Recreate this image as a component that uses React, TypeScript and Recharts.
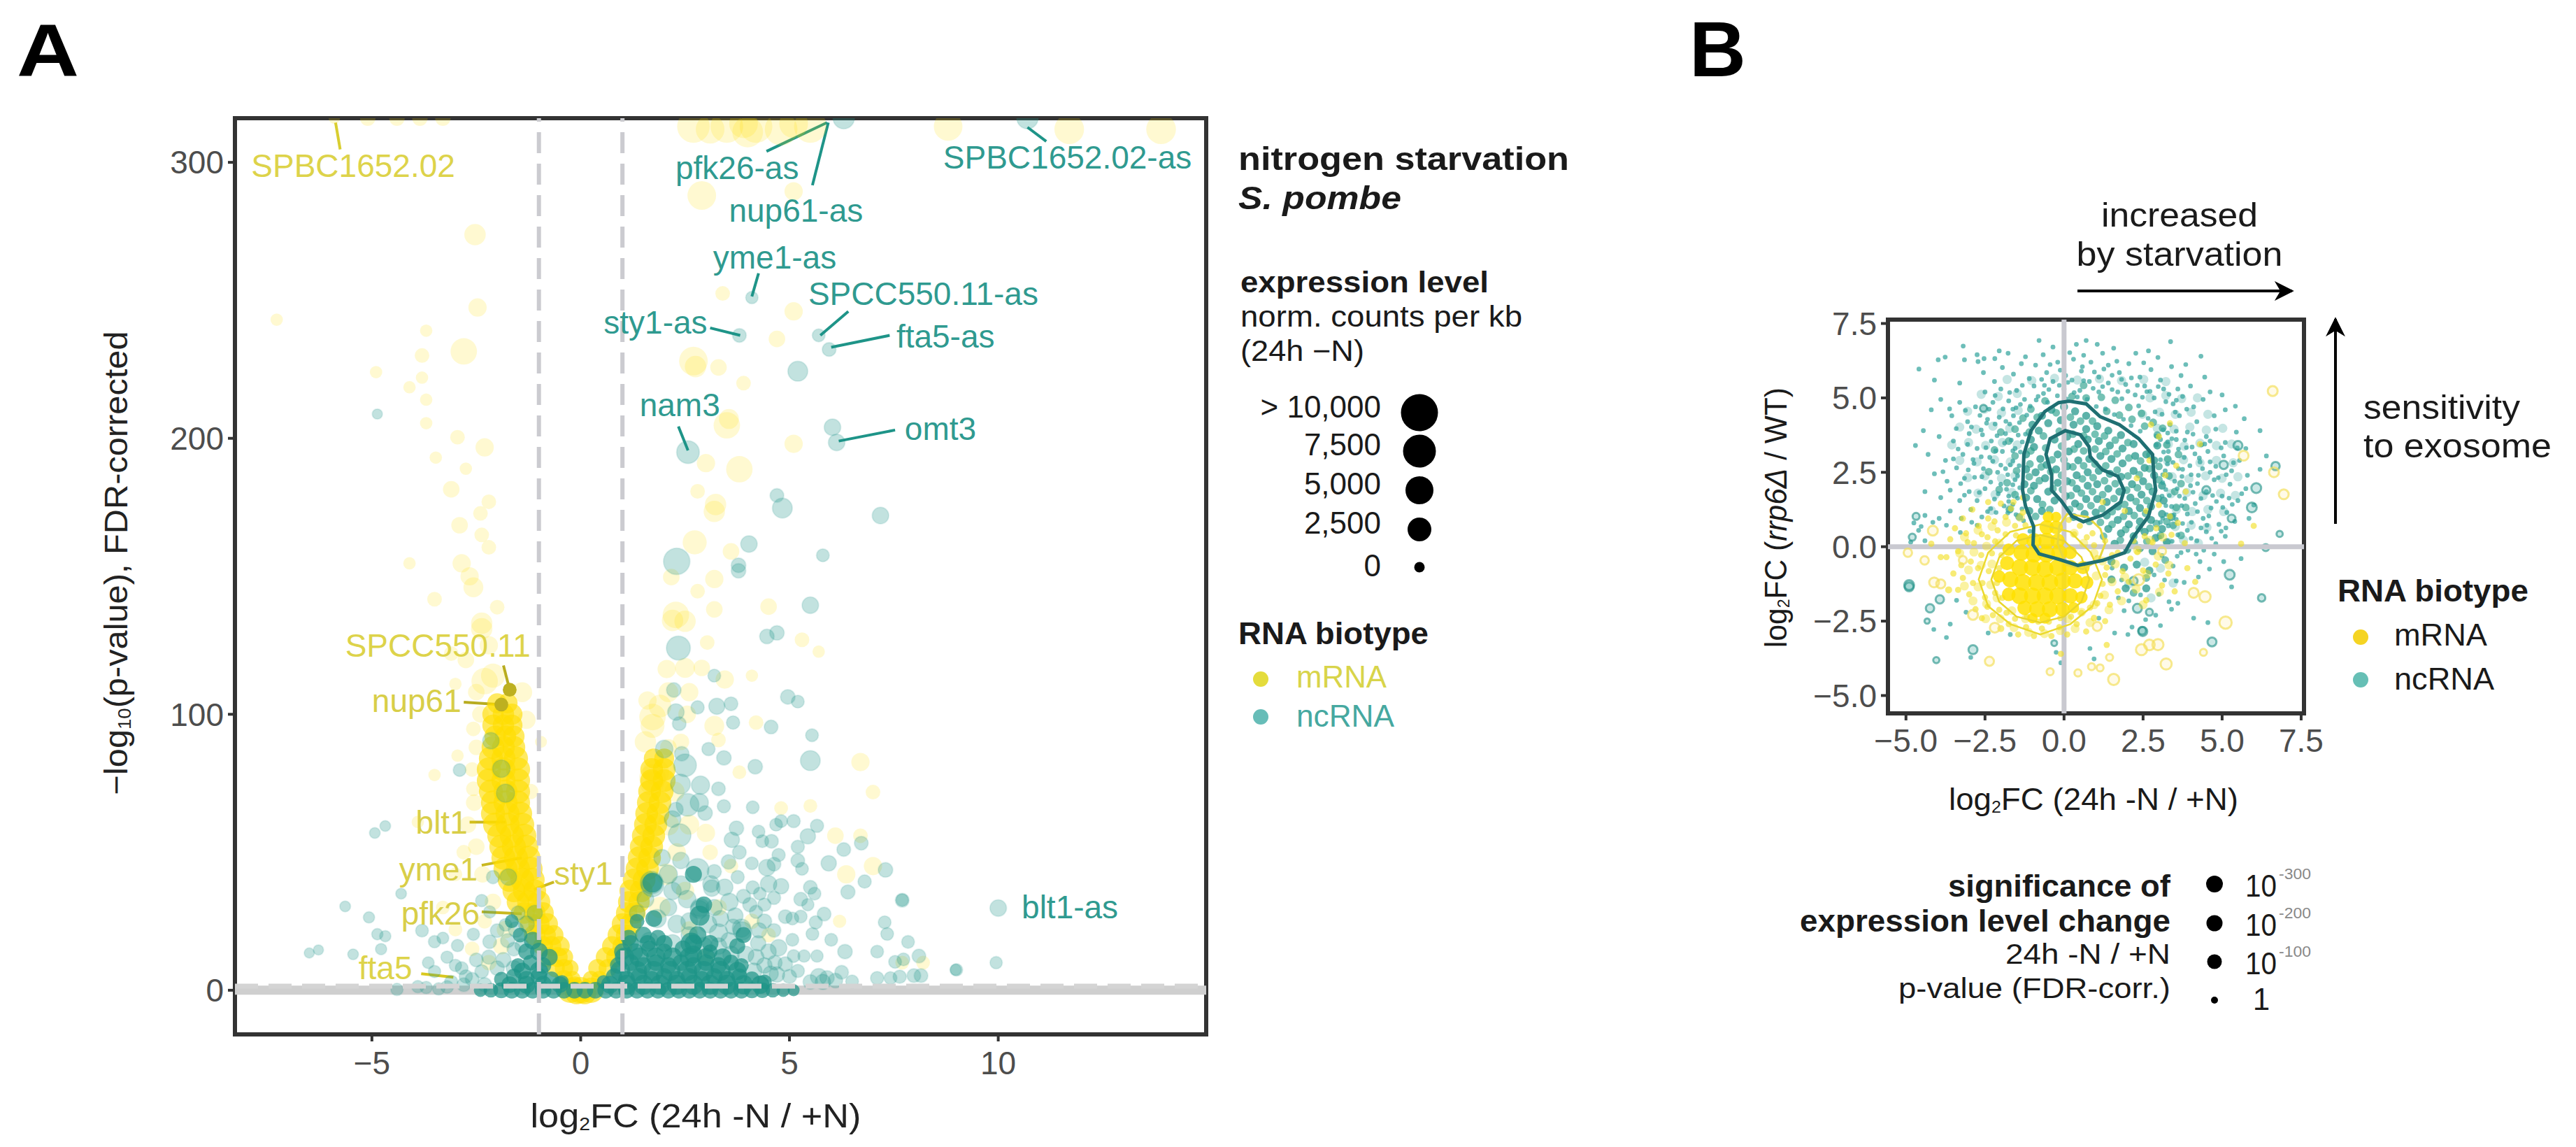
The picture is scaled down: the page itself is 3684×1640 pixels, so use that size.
import { ReferenceArea, ReferenceLine, Scatter, ScatterChart, XAxis, YAxis, ZAxis } from "recharts";

const YELLOW = "#FFDD00";
const TEAL = "#1E9488";
const FONT = "Liberation Sans, Arial, sans-serif";

type Row = [number, number, number?];
const toPoints = (rows: Row[], z = 15) => rows.map(([x, y, s]) => ({ x, y, z: s ?? z }));

// ---- panel A, x = log2FC, y = -log10(p), z = expression level ----
const volcanoXTicks = [-5, 0, 5, 10];
const volcanoYTicks = [0, 100, 200, 300];

const mrnaArms: Row[] = [
  [-2, 104, 2500], [-1.75, 104, 2500], [-2.1, 100, 3000], [-1.85, 100, 3000], [-1.65, 100, 3000], [-2.1, 96, 3000], [-1.85, 96, 3000], [-1.65, 96, 3000],
  [-2.05, 92, 3000], [-1.8, 92, 3000], [-1.6, 92, 3000], [-2.1, 88, 3500], [-1.85, 88, 3500], [-1.6, 88, 3500], [-2.15, 84, 4000], [-1.85, 84, 4000], [-1.55, 84, 4000],
  [-2.2, 80, 4000], [-1.85, 80, 4000], [-1.5, 80, 4000], [-2.2, 76, 4000], [-1.85, 76, 4000], [-1.5, 76, 4000], [-2.15, 72, 4000], [-1.8, 72, 4000], [-1.5, 72, 4000],
  [-2.1, 68, 4000], [-1.8, 68, 4000], [-1.5, 68, 4000], [-2.1, 64, 4000], [-1.75, 64, 4000], [-1.45, 64, 4000], [-2.05, 60, 4000], [-1.75, 60, 4000], [-1.4, 60, 4000],
  [-1.95, 56, 4000], [-1.65, 56, 4000], [-1.35, 56, 4000], [-1.9, 52, 4000], [-1.6, 52, 4000], [-1.3, 52, 4000], [-1.85, 48, 4000], [-1.55, 48, 4000], [-1.25, 48, 4000],
  [-1.8, 44, 4000], [-1.5, 44, 4000], [-1.2, 44, 4000], [-1.7, 40, 4000], [-1.4, 40, 4000], [-1.15, 40, 4000], [-1.6, 36, 3500], [-1.35, 36, 3500], [-1.1, 36, 3500],
  [-1.5, 32, 3500], [-1.25, 32, 3500], [-1, 32, 3500], [-1.35, 28, 3000], [-1.1, 28, 3000], [-0.9, 28, 3000], [-1.2, 24, 3000], [-1, 24, 3000], [-0.8, 24, 3000],
  [-1.1, 20, 3000], [-0.85, 20, 3000], [-0.65, 20, 2500], [-0.9, 16, 2500], [-0.7, 16, 2500], [-0.5, 16, 2500], [-0.8, 12, 2500], [-0.55, 12, 2500], [-0.4, 12, 2000],
  [-0.6, 8, 2000], [-0.4, 8, 2000], [-0.25, 8, 1500], [-0.4, 4, 2000], [-0.2, 4, 1500], [-0.15, 2, 1500], [0, 0, 5000], [-0.25, 0, 4500], [0.25, 0, 4500], [-0.1, -1, 3500], [0.1, -1, 3500],
  [1.75, 84, 2500], [2, 84, 2500], [1.7, 80, 3500], [2, 80, 3500], [1.7, 76, 3500], [2, 76, 3500], [1.65, 72, 3500], [1.95, 72, 3500], [1.62, 68, 3500], [1.9, 68, 3500],
  [1.58, 64, 3500], [1.85, 64, 3500], [1.55, 60, 3500], [1.8, 60, 3500], [1.5, 56, 3500], [1.75, 56, 3500], [1.45, 52, 3500], [1.7, 52, 3500], [1.4, 48, 3500], [1.65, 48, 3500],
  [1.35, 44, 3500], [1.6, 44, 3500], [1.28, 40, 3500], [1.52, 40, 3500], [1.2, 36, 3500], [1.45, 36, 3500], [1.15, 32, 3000], [1.4, 32, 3000], [1.1, 28, 3000], [1.3, 28, 3000],
  [1, 24, 3000], [1.2, 24, 3000], [0.9, 20, 3000], [1.1, 20, 3000], [0.75, 16, 2500], [1, 16, 2500], [0.6, 12, 2500], [0.85, 12, 2500], [0.4, 8, 2000], [0.65, 8, 2000], [0.25, 4, 1500], [0.45, 4, 1500],
];

const mrnaPale: Row[] = [
  [-5.9, 316, 300], [-5.1, 316, 1200], [-4.4, 316, 1200], [-3.85, 316, 1200], [-3.3, 316, 1200],
  [2.7, 313, 8000], [3.1, 312, 6000], [3.5, 313, 8000], [4, 311, 7000], [4.2, 313, 8000], [4.8, 312, 8000], [5.5, 313, 8000], [3.9, 314, 6000], [5.1, 314, 6000], [8.8, 313, 6000], [11.7, 312, 6500], [13.9, 312, 6500],
  [-2.53, 273.8, 3000], [-2.47, 247.4, 2000], [-2.8, 231.5, 5000], [-7.28, 243, 500], [-3.7, 239, 500], [-3.8, 230, 1000],
  [-4.9, 224, 500], [-4.1, 218.5, 500], [-3.8, 222, 500], [-3.7, 214, 500], [-3.7, 205.5, 500], [-2.95, 200.4, 1000], [-2.3, 196.7, 2000],
  [-3.47, 193, 500], [-2.75, 189, 500], [-3.1, 181.5, 1500], [-2.2, 177, 1000], [-2.4, 172.8, 1000], [-2.9, 168.5, 1500],
  [-2.37, 165, 1000], [-4.1, 154.7, 500], [-2.85, 154.7, 2000], [-2.2, 160.5, 1000], [-2.57, 146, 2500], [-2.66, 150, 2000],
  [-3.5, 141.7, 1000], [-2, 138.8, 1000], [-2.37, 133, 3000], [-2.37, 131, 3000], [-2.2, 125, 2000], [-3.1, 122, 1000], [-2.75, 119.7, 1500],
  [-2.3, 112, 5000], [-2.1, 114, 4000], [-3, 111, 500], [-2.57, 94.7, 1000], [-2.95, 85, 500], [-2.57, 73, 1000], [-3.5, 78, 500], [-3.9, 61, 500],
  [-2.7, 60, 1500], [-2.8, 50, 1000], [-3, 42, 800], [-2.4, 100, 1500], [-2.6, 80, 1000], [-3.3, 30, 800], [-3, 22, 800], [-2.6, 15, 1000], [-2.2, 10, 1200], [-1.9, 16, 1500], [-2.3, 25, 1000],
  [-2.5, 108, 1500], [-1.4, 108, 2500], [-1.3, 98, 2000], [-2.5, 88, 1200], [-2.55, 68, 1500], [-2.5, 52, 1500], [-2.35, 42, 1500], [-2.1, 32, 1500], [-1.8, 22, 1800], [-0.95, 90, 400], [-1.2, 72, 1200],
  [2.9, 288, 6000], [5.1, 289.5, 2000], [3.4, 252.5, 1000], [5.1, 246, 2000], [4.7, 236, 1500], [2.7, 228, 6000], [2.75, 226, 3000], [3.3, 225.7, 1500], [3.9, 220, 1000],
  [3.5, 204.7, 5000], [3.55, 207, 2500], [5.1, 198, 2000], [3, 191, 2000], [3.8, 188.8, 5000], [2.8, 180.8, 1000], [3.2, 173.5, 3000], [3.23, 176, 3000],
  [2.73, 162.3, 4000], [3.6, 159, 1500], [3.2, 149, 2000], [2.17, 149.7, 1500], [2.8, 144.6, 1000], [2.28, 136, 5000], [2.5, 133.7, 3000], [2.2, 134, 3000], [3.2, 138, 1500],
  [4.5, 139, 1500], [3.03, 126, 1000], [5.3, 127, 1000], [5.7, 122.7, 500], [2.06, 116.4, 2000], [2.5, 116.8, 2500], [2.9, 116.8, 1500], [3.45, 112.6, 2000],
  [4.1, 114, 500], [1.72, 99, 5000], [1.72, 95.8, 4000], [1.9, 103, 3500], [3.2, 95.8, 2500], [4.2, 97, 1000], [3.3, 90.7, 1000], [6.7, 82.7, 2000], [3.8, 79, 800],
  [1.72, 77, 5000], [1.8, 79, 5000], [1.7, 75, 4000], [7, 71.8, 1000], [4.8, 66, 800], [5.5, 66.8, 800], [6.1, 56, 1500], [6.7, 56, 1000], [6.36, 42, 2000], [7, 45, 2000], [3, 57, 2000],
  [2.4, 90, 1500], [2.1, 88, 1500], [2.6, 60, 2500], [2.3, 50, 2000], [3.3, 30, 1500], [3.1, 50, 1200], [8.2, 10, 800], [6.2, 25, 700], [7.7, 10, 800],
  [1.55, 90, 3000], [1.6, 105, 2000], [2.1, 108, 2500], [2.6, 108, 2000], [2.55, 100, 1800], [2.25, 72, 2500], [2.1, 60, 3000], [2.05, 42, 3000], [1.9, 30, 3000], [2.5, 36, 2000], [3.6, 45, 1000], [2.6, 22, 1500], [3, 12, 1500], [4.1, 25, 1200], [4.5, 20, 1000],
];

const ncrnaBase: Row[] = [
  [-1.7, 2, 1500], [-1.3, 2, 1800], [-0.9, 2, 1800], [-0.5, 2, 1500], [0.7, 2, 1800], [1.1, 2, 2500], [1.5, 2, 2500], [1.9, 2, 2500], [2.3, 2, 2500], [2.7, 2, 2500], [3.1, 2, 2500], [3.5, 2, 2500], [3.9, 2, 2300], [4.3, 2, 2000],
  [-1.4, 7, 1500], [-1, 7, 2000], [0.95, 7, 2500], [1.35, 7, 2500], [1.75, 7, 2500], [2.15, 7, 2500], [2.55, 7, 2500], [2.95, 7, 2500], [3.35, 7, 2500], [3.75, 7, 2000],
  [1.05, 12, 2300], [1.4, 12, 2300], [1.8, 12, 2300], [2.2, 12, 2300], [2.6, 12, 2300], [3, 12, 2000], [3.4, 12, 1800], [1.2, 17, 1500], [1.6, 17, 1500], [2, 17, 1500], [2.7, 17, 1800], [3.1, 17, 1500],
];

const ncrnaDense: Row[] = [
  [-2.4, 0, 700], [-2.15, 0, 1000], [-1.9, 0, 1300], [-1.65, 0, 1500], [-1.4, 0, 1500], [-1.15, 0, 1500], [-0.9, 0, 1500], [-0.65, 0, 1500], [-0.4, 0, 1500], [-0.15, 0, 1500], [0.1, 0, 1500], [0.35, 0, 1500], [0.6, 0, 1500], [0.85, 0, 1500],
  [1.1, 0, 1500], [1.35, 0, 1500], [1.6, 0, 1500], [1.85, 0, 1500], [2.1, 0, 1500], [2.35, 0, 1500], [2.6, 0, 1500], [2.85, 0, 1500], [3.1, 0, 1500], [3.35, 0, 1500], [3.6, 0, 1500], [3.85, 0, 1500], [4.1, 0, 1300], [4.35, 0, 1200], [4.6, 0, 1000], [4.85, 0, 700], [5.1, 0, 400],
  [-1.9, 4, 1000], [-1.6, 5, 1200], [-1.3, 4, 1500], [-1, 5, 1500], [-0.7, 4, 1200], [-0.45, 3, 800], [0.55, 3, 800], [0.8, 5, 1400], [1.1, 4, 1500], [1.4, 5, 1500], [1.7, 4, 1500], [2, 5, 1500], [2.3, 4, 1500], [2.6, 5, 1500], [2.9, 4, 1500], [3.2, 5, 1500], [3.5, 4, 1500], [3.8, 5, 1300], [4.1, 4, 1200], [4.4, 3, 1000],
  [-1.5, 9, 1000], [-1.2, 10, 1200], [-0.9, 9, 1400], [0.9, 9, 1500], [1.2, 10, 1500], [1.5, 9, 1500], [1.8, 10, 1500], [2.1, 9, 1500], [2.4, 10, 1500], [2.7, 9, 1500], [3, 10, 1500], [3.3, 9, 1500], [3.6, 10, 1300], [3.85, 9, 1000],
  [-1.3, 14, 1400], [-1, 14, 1800], [-0.75, 12, 1500], [1, 14, 1500], [1.3, 14, 1500], [1.65, 15, 1500], [2, 14, 1300], [2.45, 15, 1500], [2.7, 13, 1800], [3.1, 14, 1000], [3.75, 16, 1300],
  [1.15, 19, 1300], [1.5, 20, 1500], [1.85, 19, 1300], [2.65, 17, 3000], [2.8, 20, 1800], [3.9, 20, 1300], [-1.15, 18, 1800], [-1.45, 20, 1000], [-1.65, 25, 800],
  [1.35, 25, 1000], [1.75, 26, 1500], [2.85, 27, 2500], [2.95, 31, 1500], [1.72, 39, 2500], [2.7, 42, 1600],
];

const ncrnaPale: Row[] = [
  [6.3, 316, 3000], [10.7, 316, 3000], [4.1, 251, 500], [3.8, 237.3, 800], [5.7, 237.3, 600], [5.95, 232.2, 800], [5.2, 224.3, 2500], [6.03, 204, 1500], [6.13, 198.5, 1500],
  [2.57, 195, 3500], [4.7, 179.3, 800], [4.83, 174.7, 2500], [7.18, 172, 1500], [-4.87, 208.8, 100], [4.03, 161.7, 1500], [5.8, 157.6, 600], [3.78, 154, 1000], [3.78, 152, 1000], [2.3, 155.4, 5000], [5.5, 139.5, 1500],
  [4.46, 128.2, 1000], [4.7, 129.5, 1000], [2.34, 124, 4000], [3.2, 114, 600], [2.23, 108.8, 1000], [4.96, 106.3, 1000], [5.2, 104.6, 600], [2.28, 100.8, 1500], [2.36, 96.6, 800], [2.8, 102.5, 700], [3.26, 102.9, 1400], [3.6, 103.8, 800], [3.65, 97, 700],
  [4.56, 95.4, 800], [5.54, 92.4, 600], [5.5, 83.2, 2500], [2, 87.4, 1800], [2.42, 85.7, 1000], [3.06, 87.4, 700], [3.43, 84.2, 1000], [4.18, 81, 1000], [2.5, 81.5, 3500], [2.39, 74.7, 2500], [2.87, 74.3, 2000], [4.12, 66.3, 600], [3.43, 66.7, 700],
  [2.56, 67.2, 3500], [2.28, 65.5, 1000], [2.84, 68, 2000], [2.98, 64.2, 1000], [2.37, 56.2, 3500], [3.73, 58.7, 1000], [4.8, 61.3, 600], [4.68, 60, 600], [5.1, 61.3, 700], [5.66, 59.6, 700], [4.26, 57.5, 600], [4.35, 54, 600], [4.57, 54, 800], [3.62, 54.5, 1200], [5.44, 55.8, 1200],
  [5.2, 52, 700], [6.3, 51, 800], [6.72, 53.3, 800], [5.94, 46, 1200], [4.74, 49, 700], [5.2, 47, 800], [5.3, 44, 600], [7.3, 43.6, 1000], [6.8, 39.4, 700], [6.4, 35.6, 900], [7.7, 32.6, 800], [5.5, 37.3, 800], [5.6, 35, 600], [5.27, 33, 800], [5.44, 31, 500],
  [4.63, 33.5, 700], [4.4, 31, 700], [4.2, 28.4, 700], [4.12, 37.3, 700], [4.29, 35, 600], [4.5, 38.5, 1500], [4.8, 37.7, 1200], [3.54, 46.5, 1000], [4.1, 46, 600], [4.46, 44.4, 1500], [4.63, 45.7, 800], [3.76, 41, 700], [1.95, 48, 1500], [2.8, 43.6, 3500],
  [1.7, 39, 3500], [1.72, 38, 3500], [2.2, 36, 1800], [3.12, 38.5, 1500], [3.14, 37, 1500], [3.45, 37.3, 1500], [3.56, 32, 1800], [2.84, 29.3, 2000], [2.86, 30, 2000], [1.83, 26, 2000], [3.85, 22.5, 2000], [3.87, 21.5, 2000], [4.27, 21.7, 1200], [4.63, 21.7, 800], [4.9, 26.7, 800],
  [5.27, 26.7, 600], [5.83, 27.6, 800], [5.63, 24.6, 700], [5.55, 20.4, 600], [5.07, 26, 600], [6, 18.3, 600], [7.28, 24.6, 600], [7.34, 20.4, 600], [7.84, 17.5, 600], [6.33, 14, 1000], [7.1, 14, 600], [8.1, 12.4, 800], [7.73, 11.2, 600], [7.53, 10.3, 600], [9, 7.4, 500],
  [4.74, 15.4, 1500], [5.07, 18.3, 600], [5.1, 12.4, 600], [5.35, 12.4, 500], [5.66, 12.4, 500], [4.9, 9.5, 1000], [4.7, 5.7, 1200], [5.7, 4.9, 1500], [5.9, 4.5, 1000], [6.25, 6.5, 800], [6.5, 3.2, 600], [7.1, 4.4, 700], [7.42, 4.4, 600], [7.64, 4.9, 700], [7.98, 5.3, 800], [8.15, 5.3, 800],
  [3.3, 20.8, 2000], [10, 29.8, 1500], [9.95, 10, 500], [7.7, 32.7, 500], [8.98, 7.4, 300],
  [-4.68, 59.5, 200], [-4.93, 57, 200], [-5.64, 30.4, 200], [-5.07, 26.4, 300], [-6.5, 13.5, 100], [-6.28, 14.6, 100], [-5.45, 13, 200], [-4.87, 20.3, 300], [-4.68, 19.6, 300], [-4.78, 14.9, 300], [-4.3, 35, 200], [-3.8, 21.6, 600], [-3.5, 17.6, 500], [-3.3, 18.9, 400],
  [-2.37, 32.5, 500], [-2.18, 28.4, 500], [-2.57, 20.3, 500], [-2.95, 16.2, 500], [-2.18, 17.6, 800], [-2, 21.6, 800], [-2.85, 8, 600], [-2.37, 6.8, 800], [-1.6, 14.9, 800], [-1.8, 23.7, 600], [-1.41, 16.2, 800], [-3.5, 6.8, 500], [-3.9, 1.3, 500], [-2.6, 4, 800], [-3.1, 3, 700], [-2, 8, 1000], [-3.4, 0.5, 500], [-4.4, 0.3, 500],
  [-2.15, 90.4, 1500], [-1.9, 80.3, 1800], [-1.8, 71.4, 2000], [-2.9, 79.8, 600], [-1.73, 41, 1500], [-2.1, 41, 700], [5.8, 3, 1200], [6.1, 3.5, 1000], [5.5, 3, 1000],
  [2.1, 42, 2000], [2.4, 38, 2200], [2.55, 33, 1800], [2.1, 30, 1600], [1.55, 33, 1600], [1.35, 28, 1200], [2.3, 24, 1800], [2.6, 25, 1600], [3.05, 24, 1800], [3.35, 26, 1400], [3.7, 27, 1300], [4.05, 31, 900], [3.2, 30, 1400],
  [1.65, 18, 1600], [2.2, 17, 1800], [2.95, 16, 1700], [3.3, 16, 1500], [3.55, 18, 1400], [4.25, 17, 1200], [4.5, 14, 1200], [4.2, 12, 1300], [3.95, 13, 1500], [4.4, 9, 1200], [4.65, 10, 1000], [4.15, 7, 1400], [4.55, 6, 1200], [5, 5, 900], [5.2, 7, 700], [3.6, 13, 1500],
  [2.6, 20, 1500], [3.65, 23, 1200], [4.4, 25, 1000], [3.9, 34, 900], [3.2, 43, 900], [2.4, 47, 1500], [3.8, 50, 800], [2.2, 62, 1500], [3.3, 73, 800], [-1.6, 8, 1200], [-1.85, 11, 1100], [-2.2, 12, 900], [-2.5, 11, 800], [-2.75, 5, 700], [-3, 9, 500], [-3.2, 12, 500],
  [-3.65, 10, 400], [-2.3, 2, 900], [-2.8, 2, 800], [-3.2, 1.2, 600], [-3.7, 1, 500], [-1.75, 18, 900], [-1.5, 28, 900], [-1.55, 22, 1200], [-1.3, 24, 1400], [-1.1, 28, 1200],
];

const labelledMrna: Row[] = [[-1.7, 108.9, 800], [-1.9, 103.5, 800]];

const volcanoLabels = [
  { name: "SPBC1652.02", x: -7.89, y: 298.8, color: "#DDD34A" },
  { name: "SPCC550.11", x: -5.64, y: 125, color: "#DDD34A" },
  { name: "nup61", x: -5, y: 104.8, color: "#D8CE48" },
  { name: "blt1", x: -3.95, y: 60.9, color: "#D8CE48" },
  { name: "yme1", x: -4.35, y: 43.7, color: "#D8CE48" },
  { name: "sty1", x: -0.64, y: 42.2, color: "#D8CE48" },
  { name: "pfk26", x: -4.3, y: 27.8, color: "#D8CE48" },
  { name: "fta5", x: -5.32, y: 8, color: "#DDD34A" },
  { name: "pfk26-as", x: 2.27, y: 298, color: "#2F9A90" },
  { name: "nup61-as", x: 3.55, y: 282.5, color: "#2F9A90" },
  { name: "SPBC1652.02-as", x: 8.68, y: 301.8, color: "#2F9A90" },
  { name: "yme1-as", x: 3.17, y: 265.5, color: "#2F9A90" },
  { name: "SPCC550.11-as", x: 5.45, y: 252.5, color: "#2F9A90" },
  { name: "sty1-as", x: 0.55, y: 242, color: "#2F9A90" },
  { name: "fta5-as", x: 7.56, y: 237, color: "#2F9A90" },
  { name: "nam3", x: 1.41, y: 212, color: "#2F9A90" },
  { name: "omt3", x: 7.76, y: 203.5, color: "#2F9A90" },
  { name: "blt1-as", x: 10.56, y: 30, color: "#2F9A90" },
];

const labelSegments: [number, number, number, number, string][] = [
  [4.45, 304, 5.9, 314.4, TEAL], [5.55, 291.7, 5.93, 314.4, TEAL], [11.15, 307.6, 10.7, 312.7, TEAL], [4.26, 259.8, 4.1, 251.4, TEAL],
  [3.1, 240, 3.82, 237.3, TEAL], [6.41, 246, 5.74, 237.3, TEAL], [7.4, 237.3, 6, 233, TEAL], [2.34, 204.3, 2.57, 195.6, TEAL], [7.53, 203, 6.18, 199, TEAL],
  [-5.76, 304.7, -5.87, 314.4, "#D9CE30"], [-1.85, 117.7, -1.7, 108.9, "#B8AC20"], [-2.8, 104.4, -1.9, 103.5, "#B8AC20"], [-2.66, 60.9, -1.8, 60.9, "#C9B820"],
  [-2.37, 45.3, -1.41, 48, "#C9B820"], [-0.64, 39.2, -1.12, 36.5, "#C9B820"], [-2.37, 28.4, -1.41, 27.7, "#C9B820"], [-3.82, 6, -3.05, 4.7, "#D9C820"],
];

// ---- panel B, x = log2FC starvation, y = log2FC rrp6, z = significance ----
const exosomeTicks = [-5, -2.5, 0, 2.5, 5, 7.5];

const ncrnaHazeB: Row[] = [
  [-1.8, 5.62], [-1.02, 5.58], [-0.3, 5.66], [0.42, 5.6], [1.12, 5.64], [1.82, 5.58], [2.52, 5.62], [3.22, 5.55],
  [-2.62, 5.12], [-2.08, 5.05], [-1.48, 5.15], [2.72, 5], [3.22, 5.08], [3.72, 4.98], [4.22, 5],
  [-3.05, 4.55], [-2.52, 4.62], [-1.98, 4.5], [-1.45, 4.58], [2.48, 4.45], [3.02, 4.52], [3.52, 4.45], [4.02, 4.52], [4.55, 4.45],
  [-3.3, 4.02], [-2.78, 3.95], [-2.25, 4.05], [-1.72, 3.98], [2.95, 3.98], [3.48, 3.95], [3.98, 4.02], [4.5, 3.92], [5.02, 3.98],
  [-3.55, 3.42], [-3.02, 3.5], [-2.48, 3.4], [-1.95, 3.5], [-1.48, 3.42], [3.3, 3.45], [3.8, 3.38], [4.3, 3.48], [4.82, 3.4], [5.3, 3.45],
  [-3.3, 2.9], [-2.75, 2.85], [-2.2, 2.92], [-1.7, 2.85], [3.28, 2.88], [3.78, 2.92], [4.3, 2.82], [4.82, 2.9], [5.35, 2.82],
  [-3.05, 2.32], [-2.5, 2.38], [-1.98, 2.3], [-1.55, 2.38], [3.42, 2.35], [3.95, 2.28], [4.48, 2.38], [5, 2.3], [5.5, 2.35],
  [-2.72, 1.8], [-2.18, 1.75], [-1.65, 1.82], [3.38, 1.78], [3.88, 1.82], [4.4, 1.72], [4.95, 1.8], [5.42, 1.72],
  [-2.3, 1.22], [-1.72, 1.28], [3.55, 1.25], [4.05, 1.18], [4.55, 1.25], [5.05, 1.18],
  [3.52, 0.68], [4.02, 0.72], [4.52, 0.65], [3.3, 0.15], [3.78, 0.22], [4.25, 0.12], [2.05, -1.25], [2.55, -0.52], [3.05, -0.72], [3.45, -1.22], [2.75, -1.72],
];

const ncrnaSparseB: Row[] = [
  [-3.19, 6.74], [-4.59, 5.97], [-3.98, 6.28], [-3.76, 6.37], [-3.15, 6.28], [-2.75, 6.45], [-2.72, 6.22], [-2.53, 6.32], [-2.19, 6.32], [-2.05, 6.58], [-1.77, 6.5], [-0.79, 6.93], [-0.66, 6.45], [-0.35, 6.71], [0.39, 6.8], [0.7, 6.93], [1.05, 6.8], [1.57, 6.67], [3.37, 6.89], [2.67, 6.58], [2.27, 6.5], [4.33, 6.4], [2.97, 6.36], [1.22, 6.5],
  [-4.1, 5.6], [-3.3, 5.5], [-2.55, 5.85], [-2.2, 5.55], [-1.95, 6.02], [-1.6, 5.8], [-1.35, 6.15], [-1.1, 5.65], [-0.9, 6.1], [-0.55, 5.85], [-0.2, 6.2], [0.05, 5.75], [0.3, 6.3], [0.55, 5.9], [0.85, 6.2], [1.1, 5.7], [1.4, 6.1], [1.75, 5.85], [2.05, 6.15], [2.4, 5.7], [2.75, 5.95], [3.05, 5.6], [3.4, 6.05], [3.7, 5.75], [4, 5.4], [4.45, 5.7], [3.6, 5.3], [5, 5.1],
  [-4.7, 3.4], [-4.2, 4.6], [-4.45, 3.9], [-3.9, 4.95], [-3.55, 4.4], [-3.3, 4.85], [-3.05, 4.2], [-2.8, 4.7], [-2.5, 5.2], [-2.25, 4.85], [-2, 5.3], [-1.75, 4.9], [-1.5, 5.25], [-1.25, 4.95], [-0.95, 5.4], [-0.65, 5.15], [-0.35, 5.55], [0, 5.3], [0.25, 5.6], [0.5, 5.25], [0.8, 5.55], [1.1, 5.2], [1.4, 5.5], [1.7, 5.2], [1.95, 5.45], [2.25, 5.1], [2.55, 5.4], [2.85, 5], [3.15, 5.3], [3.45, 4.8], [3.75, 5.05], [4.1, 4.7], [4.4, 4.95], [4.75, 4.4], [5.1, 4.6],
  [-4.3, 3.1], [-3.95, 3.7], [-3.75, 2.9], [-3.5, 3.55], [-3.2, 3.1], [-3, 3.8], [-2.75, 3.3], [-2.45, 4.15], [-2.3, 3.55], [-2.05, 4.35], [-1.85, 3.8], [-1.6, 4.4], [-1.45, 3.75], [3.1, 4.45], [3.35, 4.1], [3.65, 4.4], [3.9, 3.85], [4.2, 4.2], [4.5, 3.7], [4.8, 3.95], [5.1, 3.5], [5.45, 3.85], [5.7, 4.3], [6.2, 3.9],
  [-4.1, 2.45], [-3.7, 2.2], [-3.4, 2.65], [-3.15, 2.3], [-2.85, 2.8], [-2.6, 2.35], [-2.35, 3], [-2.1, 2.5], [-1.95, 3.2], [-1.7, 2.75], [-1.55, 3.3], [3.05, 3.6], [3.3, 3.2], [3.55, 3.6], [3.8, 3], [4.05, 3.35], [4.3, 2.85], [4.55, 3.2], [4.8, 2.7], [5.05, 3.05], [5.3, 2.55], [5.55, 2.9], [5.8, 2.4], [6.2, 2.6], [6.4, 3.05],
  [-4.4, 1.85], [-3.9, 1.65], [-3.6, 1.9], [-3.3, 1.55], [-3, 1.85], [-2.75, 1.55], [-2.5, 1.95], [-2.2, 1.6], [-2, 2.1], [-1.75, 1.7], [-1.55, 2.25], [3.2, 2.55], [3.5, 2.2], [3.75, 2.6], [4, 2.05], [4.25, 2.4], [4.5, 1.85], [4.75, 2.25], [5, 1.7], [5.25, 2.1], [5.5, 1.55], [5.75, 1.95], [6, 1.4], [5.85, 0.95], [5.4, 0.85],
  [-4.75, 0.8], [-4.4, 1.05], [-3.95, 0.95], [-3.6, 1.2], [-3.25, 0.95], [-2.95, 1.25], [-2.6, 1], [3.1, 1.7], [3.4, 1.35], [3.65, 1.7], [3.9, 1.1], [4.15, 1.45], [4.4, 0.95], [4.65, 1.3], [4.9, 0.75], [5.15, 1.15], [3.3, 0.7], [3.6, 0.4], [3.9, 0.55], [4.2, 0.2], [4.5, 0.5], [4.8, 0.1], [5.1, 0.35],
  [-4.85, 0.15], [-4.6, 0.55], [-4.4, 0.2], [3.1, -0.3], [3.45, -0.65], [3.7, -0.2], [4.3, -0.5], [4.6, -0.75], [5.05, -0.5], [5.6, -0.4], [5.3, -1.35], [-3.4, -1.8], [-3.1, -2.2], [-3.6, -2.6], [-2.4, -2.9], [-1.7, -2.95], [1.1, -2.4], [1.6, -2.9], [1.9, -2.15], [2.15, -2.7], [2.9, -2.3], [3.4, -2.1], [3.6, -1.9], [4.1, -2.4], [4.55, -2.55], [3, -1.6], [3.8, -1.2], [0.95, -3.77], [-0.1, -3.9],
];

const ncrnaSpeckB: Row[] = [
  [-3.62, 4.63], [-3.41, 3.97], [-3.12, 4.58], [-2.93, 4.02], [-2.66, 4.41], [-2.58, 3.76], [-2.37, 4.62], [-2.18, 4.12], [-2.12, 3.73], [-1.93, 4.63], [-1.84, 4.21], [-1.67, 3.58], [-1.52, 4.67], [-1.41, 4.17], [-1.32, 3.52], [-1.18, 4.42], [-1.07, 4.72], [-0.88, 4.93], [-0.71, 5.62], [-0.52, 4.85], [-0.44, 6.12], [-0.21, 5.07], [-0.12, 5.93], [0.08, 4.96], [0.18, 6.52], [0.42, 5.03], [0.62, 6.43], [0.73, 4.95], [0.96, 5.87], [1.02, 4.71], [1.26, 5.97], [1.31, 4.63], [1.52, 5.76], [1.59, 4.44], [1.83, 4.97], [1.88, 4.28], [2.13, 5.67], [2.12, 4.07], [2.36, 4.73], [2.41, 3.88], [2.62, 5.21], [2.66, 4.31], [2.88, 4.53], [2.92, 3.72], [3.22, 4.87], [3.14, 3.93], [3.52, 4.52], [3.41, 3.63],
  [-3.35, 3.28], [-3.05, 3.44], [-2.88, 2.93], [-2.62, 3.02], [-2.47, 3.33], [-2.25, 2.87], [-2.16, 3.22], [-2, 2.74], [-1.88, 3.48], [-1.78, 2.42], [-1.62, 2.88], [-1.47, 2.38], [-1.38, 3.18], [-1.42, 2.72], [-1.4, 1.98], [-1.47, 1.63], [-1.33, 1.27], [-1.62, 1.42], [-1.82, 1.93], [-1.9, 1.37], [-2.32, 1.28], [-2.08, 1.78], [-2.32, 2.17], [-2.55, 2.62], [-2.83, 2.33], [-2.68, 1.82], [-3.03, 2.58], [-3.27, 2.12], [-3.5, 2.95], [-3.83, 2.52], [-3.15, 1.73],
  [3.15, 3.18], [3.28, 3.82], [3.45, 2.83], [3.62, 3.28], [3.73, 2.36], [3.87, 3.33], [3.98, 2.72], [4.14, 3.12], [4.22, 2.12], [4.38, 2.62], [4.45, 3.45], [4.62, 2.5], [4.7, 1.72], [4.88, 2.32], [4.97, 3.32], [5.13, 2.42], [5.22, 1.63], [5.36, 2.82], [5.62, 1.78], [5.48, 3.32], [3.12, 2.15], [3.33, 1.72], [3.27, 2.78], [3.48, 1.07], [3.58, 1.95], [3.72, 1.38], [3.82, 1.62], [4.03, 0.82], [4.08, 1.83], [4.22, 1.18], [4.33, 1.62], [4.58, 1.03], [4.52, 0.72], [4.82, 1.52], [5.02, 1.32], [5.12, 0.63], [5.32, 1.42], [3.24, 1.08], [3.05, 0.82], [3.42, 0.18], [3.75, 0.78], [4.02, 0.28], [4.33, 0.63], [4.67, 0.28], [4.97, 0.52], [3.58, -0.32], [3.92, -0.12], [4.18, -0.25], [4.42, -0.12], [4.75, -0.25],
  [-2.75, 0.72], [-2.42, 1.18], [-2.15, 1.15], [-1.78, 1.13], [-1.52, 1.08], [-1.28, 0.87], [-1.08, 0.52], [-2.92, 0.82], [-3.28, 0.48], [-3.72, 0.72], [-4.15, 0.82], [-4.52, 0.68], [0.58, 6.05], [1.67, 6.23], [2.52, 6.18], [-1.22, 6.38], [3.85, 6.12], [4.62, 5.2], [5.42, 4.72], [5.75, 3.3],
  [1.52, -0.72], [1.82, -1.12], [2.05, -1.82], [1.72, -1.72], [2.42, -1.62], [2.85, -0.95], [3.18, -1.12], [2.58, -2.45], [2.02, -2.95], [3.05, -2.65], [3.32, -1.85], [3.55, -1.15], [4.25, -1.02], [0.82, -3.42], [-0.25, -3.55], [-2.95, -3.72], [-3.72, -3.05], [-4.12, -2.78],
  [-0.82, 5.05], [-0.62, 5.42], [-0.48, 5.28], [-0.15, 5.42], [0.12, 5.52], [0.32, 5.18], [0.62, 5.58], [0.92, 5.32], [1.22, 5.38], [1.52, 5.28], [1.82, 5.62], [2.02, 5.22], [2.32, 5.42], [2.48, 5.02], [2.72, 5.22], [2.98, 5.38], [3.32, 5.12], [3.55, 4.92], [3.88, 4.62], [-1.72, 5.18], [-1.32, 5.42], [-1.62, 4.62], [-1.38, 4.78], [-2.18, 5.08], [-2.42, 4.28], [-2.62, 3.92], [-1.72, 4.12], [-1.22, 3.78], [-1.62, 3.22], [-1.85, 2.62], [-1.62, 2.08], [-1.75, 1.52], [2.92, 3.42], [3.05, 2.92], [3.12, 2.42], [3.22, 1.92], [3.22, 1.38], [3.12, 0.95], [3.02, 0.32], [3.55, 0.92], [3.28, 3.52], [3.55, 3.88], [3.82, 3.58], [4.08, 3.78], [4.35, 3.42], [4.62, 3.55], [4.28, 2.98], [4.62, 2.85], [4.02, 2.42], [3.62, 2.62],
];

const ncrnaLargeB: Row[] = [
  [-4.9, -1.29, 150], [-4.9, -1.35, 120], [-3.93, -1.77, 100], [-4.24, -2.07, 100], [-4.33, -2.5, 20], [-2.88, -3.46, 120], [-4.04, -3.81, 40], [2.49, -2.85, 120], [2.47, -2.82, 80], [4.68, -3.2, 120], [5.24, -0.94, 150], [6.25, -1.72, 70],
  [2.32, -2.07, 120], [2.7, -2.2, 60], [6.08, 1.97, 150], [5.94, 1.32, 150], [6.69, 2.71, 100], [-0.31, -3.24, 30], [6.82, 0.43, 40], [6.38, -0.03, 60], [-4.8, 0.32, 60], [-4.68, 1.02, 60], [5.5, 3.4, 120], [5.05, 2.75, 100], [5.3, 0.95, 80], [-2.55, 4.65, 60], [4.5, 1.9, 90], [2.2, -1.15, 90],
];

const ncrnaDenseB: Row[] = [
  [-1, 4.1], [-0.7, 4.4], [-0.4, 4.6], [0, 4.7], [0.35, 4.55], [0.7, 4.4], [-1.05, 3.6], [-0.8, 3.9], [-0.5, 4.15], [-0.1, 4.25], [0.3, 4.1], [0.7, 3.95], [1.05, 4.05], [1.4, 3.9], [1.8, 3.75], [2.2, 3.45],
  [-1.2, 3.1], [-0.95, 3.35], [-0.75, 2.95], [-0.3, 3.6], [0.1, 3.7], [0.45, 3.45], [0.75, 3.6], [1.1, 3.55], [1.45, 3.4], [1.85, 3.3], [2.25, 3.05], [2.6, 3.1], [2.95, 3.4],
  [-1.2, 2.6], [-0.9, 2.5], [-0.55, 2.75], [-0.2, 3.1], [0.15, 3.2], [0.45, 2.9], [0.8, 2.95], [1.15, 3.05], [1.5, 2.95], [1.85, 2.8], [2.2, 2.55], [2.55, 2.65], [2.85, 2.9],
  [-1.25, 2.1], [-0.95, 2.05], [-0.6, 2.3], [-0.25, 2.6], [0.1, 2.7], [0.4, 2.4], [0.75, 2.5], [1.1, 2.55], [1.45, 2.45], [1.8, 2.35], [2.15, 2.1], [2.5, 2.2], [2.85, 2.4], [3.1, 2.05],
  [-1.2, 1.65], [-0.85, 1.6], [-0.5, 1.85], [-0.2, 2.15], [0.1, 2.2], [0.4, 1.95], [0.75, 2.05], [1.05, 2.1], [1.4, 1.95], [1.75, 1.85], [2.1, 1.65], [2.45, 1.75], [2.8, 1.85], [3.15, 1.55],
  [-1.1, 1.2], [-0.7, 1.2], [-0.3, 1.55], [0.05, 1.7], [0.35, 1.45], [0.7, 1.6], [1.05, 1.6], [1.35, 1.5], [1.7, 1.35], [2.05, 1.2], [2.4, 1.3], [2.75, 1.35], [3.1, 1.1], [3.4, 1],
  [0.3, 1], [0.65, 1.1], [1, 1.15], [1.35, 1.05], [1.7, 0.9], [2.05, 0.75], [2.4, 0.85], [2.75, 0.9], [3.1, 0.6],
  [1.4, 0.6], [1.8, 0.45], [2.2, 0.35], [2.55, 0.5], [2.9, 0.3], [3.25, 0.15], [1.6, 0.1], [2, -0.1], [2.4, -0.05], [2.8, -0.15], [1.5, -0.5], [1.9, -0.7], [2.3, -0.6], [2.7, -0.8], [1.5, -1.1], [1.95, -1.4], [2.6, -1.4],
];

const ncrnaFillB: Row[] = [
  [-0.85, 4.35], [-0.25, 4.5], [0.2, 4.35], [0.52, 4.22], [0.9, 4.22], [-1.1, 3.85], [-0.65, 3.72], [-0.15, 3.88], [0.28, 3.78], [0.62, 3.72], [0.98, 3.78], [1.28, 3.72], [1.62, 3.58], [2.02, 3.5],
  [-1.05, 3.22], [-0.58, 3.32], [-0.08, 3.38], [0.32, 3.28], [0.62, 3.22], [0.98, 3.28], [1.32, 3.2], [1.68, 3.12], [2.05, 2.98], [2.42, 2.88], [2.72, 3.08],
  [-1.08, 2.78], [-0.72, 2.68], [-0.38, 2.92], [0, 2.92], [0.28, 2.68], [0.62, 2.72], [0.98, 2.78], [1.32, 2.72], [1.68, 2.58], [2.02, 2.38], [2.38, 2.42], [2.7, 2.62], [3, 2.7],
  [-1.1, 2.35], [-0.78, 2.22], [-0.42, 2.52], [-0.08, 2.4], [0.25, 2.15], [0.58, 2.28], [0.92, 2.32], [1.28, 2.22], [1.62, 2.12], [1.98, 1.9], [2.32, 1.98], [2.68, 2.02], [3, 2.25],
  [-1.05, 1.88], [-0.68, 1.42], [-0.35, 1.95], [-0.05, 1.92], [0.22, 1.72], [0.55, 1.8], [0.9, 1.85], [1.22, 1.75], [1.58, 1.62], [1.92, 1.42], [2.28, 1.52], [2.62, 1.55], [2.98, 1.62],
  [-0.9, 1.02], [-0.45, 1.25], [0.18, 1.25], [0.5, 1.35], [0.85, 1.38], [1.2, 1.28], [1.52, 1.18], [1.88, 1.02], [2.22, 1.05], [2.58, 1.12], [2.92, 0.78], [3.25, 0.85],
  [0.8, 0.85], [1.15, 0.82], [1.52, 0.75], [1.95, 0.58], [2.38, 0.62], [2.72, 0.62], [3.05, 0.38], [1.25, 0.35], [1.78, 0.22], [2.22, 0.12], [2.62, 0.18],
  [-1.55, 3.05], [-1.75, 3.55], [-1.5, 2.55], [-1.8, 2.15], [-1.55, 1.75], [-1.55, 3.95], [-1.3, 4.32], [-1.05, 4.62], [-0.6, 4.9], [0.25, 5.05], [0.7, 5], [1.35, 4.55], [1.75, 4.42], [2.15, 4.28], [2.55, 4.05], [2.95, 3.75], [3.25, 3.42], [3.28, 2.95], [3.32, 2.38], [3.5, 1.85], [3.55, 1.32], [3.45, 0.72],
  [-2, 3.85], [-2.2, 3.25], [-2.38, 2.52], [-2.05, 1.92], [-1.72, 1.25], [-1.42, 1], [0.62, 5.42], [1.18, 5.02], [1.62, 4.92], [2.05, 4.68], [2.45, 4.48], [2.82, 4.18], [3.12, 3.98], [3.62, 3.1], [3.7, 2.12], [3.85, 1.32], [3.7, 0.38], [3.2, -0.45], [2.6, -1.05], [2.2, -1.55],
];

const mrnaHazeB: Row[] = [
  [-3.15, 0.32], [-2.72, 0.55], [-2.28, 0.68], [-1.82, 0.82], [-1.38, 0.98], [-3.3, -0.22], [-2.85, -0.18], [-2.45, 0.02], [-2.05, 0.12], [-3.02, -0.78], [-2.62, -0.62], [-2.28, -0.58],
  [-3.15, -1.32], [-2.72, -1.35], [-2.32, -1.28], [-2.88, -1.82], [-2.45, -1.92], [-2.12, -1.72], [-2.48, -2.42], [-2.02, -2.42], [-1.58, -2.72], [-1.12, -2.88], [-0.62, -2.92], [-0.12, -2.82], [0.35, -2.75], [0.82, -2.55],
  [-1.65, -2.15], [-1.22, -2.42], [0.12, -2.42], [0.55, -2.2], [0.95, -1.95], [1.28, -1.62], [1.52, -1.18], [1.02, -0.98], [1.22, -0.48], [0.95, -0.22], [0.62, 0.12], [0.32, 0.45], [1.62, -0.58], [1.92, -1.02], [1.82, -1.82], [1.42, -2.12],
  [2.28, -1.42], [2.62, -0.92], [2.98, -0.32], [3.32, -0.62], [2.32, -0.12], [2.72, 0.22], [3.12, 0.32], [2.5, -1.95], [3.02, -1.52],
];

const mrnaFringeB: Row[] = [
  [-4.2, 0.1], [-3.9, -0.35], [-3.6, 0.25], [-3.35, -0.15], [-3.1, 0.45], [-2.95, -0.5], [-3.5, -0.9], [-3.2, -1.05], [-3.65, -1.45, 60], [-3.35, -1.45], [-3, -1.6], [-2.8, -2.1], [-2.5, -1.7], [-2.6, -2.4], [-2.25, -2.3], [-2, -2.75, 60], [-1.75, -2.6], [-1.45, -2.95], [-1.2, -2.7], [-0.95, -3], [-0.7, -2.75], [-0.4, -3], [-0.15, -2.7], [0.1, -2.95], [0.4, -2.6], [0.7, -2.85], [0.95, -2.4, 50], [1.3, -2.5],
  [-2.7, 0.7], [-2.4, 0.95], [-2.1, 0.55], [-1.85, 1], [-1.55, 0.7], [-1.3, 1.15], [-2.9, 1.25], [-3.2, 0.95, 40], [-2.4, 1.5], [-2, 1.45], [-1.6, 1.5], [-1.3, 1.65], [0.15, 0.9], [0.5, 0.7], [0.9, 0.45], [1.3, 0.2], [1.7, -0.2], [1.35, -0.7], [1.7, -1.5], [1.45, -1.95], [1.15, -1.65],
  [2.1, -0.4], [2.5, -0.8], [2.9, -0.6], [3.3, -0.9], [3.1, -1.3], [2.6, -1.8], [3.5, -1.5], [2.2, 0.2], [2.8, 0.15], [3.4, 0.4], [2.6, 1.2], [3, 1.4], [3.6, 0.8], [3.85, 1.85, 40], [3.2, 2.4], [3, 3.7], [2.75, 4.1, 40], [3.35, 4.15], [4.3, 3.45], [6, 0.7], [5.6, 0.1], [-0.1, -3.6], [1.35, -3.3],
  [-2.85, 0.12], [-2.62, -0.28], [-2.72, -0.72], [-2.88, -1.22], [-2.58, -1.22], [-2.42, 0.32], [-2.28, -0.22], [-2.38, -0.82], [-2.18, -1.55], [-2.42, -2.02], [-2.05, -2.12], [-1.82, -2.22], [-1.55, -2.42], [-1.18, -2.35], [-0.82, -2.52], [-0.48, -2.52], [-0.12, -2.4], [0.22, -2.35], [0.55, -2.22], [0.82, -2.05], [1.05, -1.9], [1.22, -1.25], [1.3, -0.95], [1.05, -0.38], [0.95, 0.05], [0.72, 0.32], [0.32, 0.42],
  [-1.85, 0.42], [-1.52, 0.38], [-1.22, 0.72], [-2.18, 0.18], [-1.98, -0.28], [-2.05, -0.72], [-2.12, -1.22], [-1.95, -1.72], [-3.25, -0.62], [-3.45, 0.62], [-3.72, -0.35], [-3.05, 0.15], [-2.6, 0.42], [-2.2, 0.85], [-1.68, 1.28], [1.52, -0.28], [1.85, -0.82], [2.05, -1.18], [2.32, -0.18], [2.55, 0.35], [2.92, 0.62], [1.92, 1.2], [1.22, 1.5], [2.3, 2.3], [2.7, 2.9], [3.55, 2.72], [3.35, 1.02], [3.82, 0.12], [3.9, -0.72], [4.15, -1.18],
];

const mrnaLargeB: Row[] = [
  [5.11, -2.55, 250], [2.45, -3.46, 200], [2.97, -3.29, 200], [2.7, -3.3, 180], [3.23, -3.94, 200], [1.57, -4.46, 200], [-2.36, -3.85, 120], [4.46, -1.68, 200], [6.6, 5.23, 150], [6.64, 2.5, 150], [6.95, 1.76, 150], [5.68, 3.06, 150], [-4.15, 0.54, 150], [-4.94, -0.2, 100], [-4.41, -0.46, 100], [-4.11, -1.2, 150],
  [-2.88, -2.29, 150], [-2.19, -2.72, 150], [-0.44, -4.2, 60], [0.44, -4.24, 60], [0.87, -4.03, 60], [1.14, -4.07, 60], [1.44, -3.72, 60], [1.05, -2.68, 120], [4.41, -3.55, 60], [2.36, -1.11, 200], [4.1, -1.55, 150], [-3.9, -1.25, 120], [-3.2, -0.45, 90], [3.1, -0.15, 90],
];

const mrnaCoreB: Row[] = [
  [-0.87, -1.2, 500], [-1.3, -1.2, 500], [-0.45, -1.2, 500], [-0.05, -1.15, 500], [0.35, -1.15, 400], [0.72, -1.2, 300], [-1.7, -1.1, 450], [-2.05, -1, 260],
  [-1.4, -0.7, 500], [-1, -0.7, 500], [-0.6, -0.75, 500], [-0.2, -0.7, 500], [0.2, -0.7, 400], [0.6, -0.7, 300], [-1.8, -0.55, 350],
  [-1.35, -0.2, 450], [-0.95, -0.25, 500], [-0.55, -0.25, 500], [-0.15, -0.2, 450], [0.2, -0.2, 280], [-1.75, -0.1, 260],
  [-0.95, 0.2, 400], [-0.55, 0.2, 450], [-0.2, 0.2, 360], [-1.3, 0.25, 260], [-0.55, 0.65, 360], [-0.25, 0.65, 320], [-0.5, 1, 200], [-0.25, 1, 170],
  [-1.4, -1.65, 500], [-1, -1.65, 500], [-0.6, -1.65, 500], [-0.2, -1.65, 500], [0.2, -1.65, 400], [0.55, -1.7, 260], [-1.75, -1.6, 320],
  [-1.25, -2.05, 360], [-0.85, -2.1, 450], [-0.45, -2.1, 450], [-0.05, -2.1, 360], [0.3, -2.05, 200], [-0.6, -2.4, 200], [-1, -2.4, 170],
];

const teal2Outer: Row[] = [
  [0.17, 4.89], [0.7, 4.8], [1.14, 4.37], [1.75, 4.1], [2.36, 3.63], [2.8, 3.1], [2.84, 2.41], [2.9, 1.89], [2.67, 1.02], [2.19, 0.32], [1.92, -0.2], [1.22, -0.46],
  [0.44, -0.63], [-0.17, -0.42], [-0.79, -0.24], [-0.98, 0.06], [-0.96, 0.67], [-1.22, 1.37], [-1.31, 1.89], [-1.27, 3.1], [-1.05, 3.89], [-0.61, 4.54], [-0.17, 4.84],
];
const teal2Inner: Row[] = [
  [0.04, 3.9], [0.52, 3.76], [0.79, 3.36], [0.83, 3.02], [1.22, 2.58], [1.7, 2.37], [1.9, 1.89], [1.79, 1.5], [1.22, 1.06], [0.61, 0.84], [0.26, 1.02], [-0.09, 1.54], [-0.39, 1.89], [-0.39, 2.41], [-0.57, 3.1], [-0.44, 3.63],
];
const yellowContour1: Row[] = [[-0.75, 0.75], [0.2, 0.5], [0.85, -0.2], [1.2, -1.1], [0.9, -2], [0.2, -2.6], [-0.75, -2.95], [-1.7, -2.6], [-2.4, -2], [-2.7, -1.1], [-2.4, -0.2], [-1.7, 0.5]];
const yellowContour2: Row[] = [[-0.75, 0.4], [0, 0.2], [0.55, -0.35], [0.8, -1.1], [0.55, -1.85], [0, -2.35], [-0.75, -2.55], [-1.5, -2.35], [-2.05, -1.85], [-2.3, -1.1], [-2.05, -0.35], [-1.5, 0.2]];
const yellowContour3: Row[] = [[0.1, 1.1], [0.75, 1], [1.15, 0.6], [1.3, 0.1], [1.1, -0.45], [0.6, -0.75], [0.05, -0.6], [-0.2, 0.1], [-0.15, 0.7]];

const VX: [number, number] = [-8.28, 14.98];
const VY: [number, number] = [-16, 316];
const EX: [number, number] = [-5.57, 7.59];
const EY: [number, number] = [-5.6, 7.63];

const tickText = { fill: "#4d4d4d", fontSize: 46, fontFamily: FONT };
const tickMark = { stroke: "#333333", strokeWidth: 4 };
const minus = (s: string) => s.replace("-", "\u2212");

const lineSeries = (key: string, data: { x: number; y: number }[], stroke: string, width: number, dash?: string) => (
  <Scatter key={key} data={data} isAnimationActive={false} shape={() => <g />} line={{ stroke, strokeWidth: width, strokeDasharray: dash }} />
);

const contourSeries = (key: string, rows: Row[], stroke: string, width: number) => (
  <Scatter key={key} data={toPoints(rows)} isAnimationActive={false} shape={() => <g />} line={{ stroke, strokeWidth: width, fill: "none" }} lineJointType="linearClosed" />
);

function GeneLabel(p: any) {
  return (
    <text x={p.cx} y={p.cy} fill={p.payload.color} fontSize={46} fontFamily={FONT} dominantBaseline="central">
      {p.payload.name}
    </text>
  );
}

function VolcanoPanel() {
  return (
    <div style={{ position: "absolute", left: 0, top: 0 }}>
      <ScatterChart width={1800} height={1640} margin={{ top: 169, right: 75, bottom: 0, left: 0 }}>
        <XAxis type="number" dataKey="x" domain={VX} ticks={volcanoXTicks} allowDataOverflow height={161} tick={tickText} tickLine={tickMark} axisLine={false} tickSize={10} tickMargin={14} tickFormatter={(v) => minus(String(v))} interval={0} />
        <YAxis type="number" dataKey="y" domain={VY} ticks={volcanoYTicks} allowDataOverflow width={336} tick={tickText} tickLine={tickMark} axisLine={false} tickSize={10} tickMargin={6} interval={0} />
        <ZAxis type="number" dataKey="z" domain={[0, 10000]} range={[150, 2100]} />
        {lineSeries("zero", [{ x: VX[0], y: 0 }, { x: VX[1], y: 0 }], "#CFCFCF", 13)}
        <Scatter data={toPoints(mrnaArms)} fill={YELLOW} fillOpacity={0.62} isAnimationActive={false} />
        <Scatter data={toPoints(mrnaPale)} fill={YELLOW} fillOpacity={0.18} isAnimationActive={false} />
        <Scatter data={toPoints(ncrnaBase)} fill={TEAL} fillOpacity={0.72} isAnimationActive={false} />
        <Scatter data={toPoints(ncrnaDense)} fill={TEAL} fillOpacity={0.7} isAnimationActive={false} />
        <Scatter data={toPoints(ncrnaPale)} fill={TEAL} fillOpacity={0.27} stroke={TEAL} strokeOpacity={0.12} strokeWidth={2} isAnimationActive={false} />
        <Scatter data={toPoints(labelledMrna)} fill="#BDB020" isAnimationActive={false} />
        {lineSeries("alpha", [{ x: VX[0], y: 1.5 }, { x: VX[1], y: 1.5 }], "#D4D4D4", 7, "33 15")}
        {lineSeries("fcLow", [{ x: -1, y: VY[0] }, { x: -1, y: VY[1] }], "#CBCBD0", 6, "30 15")}
        {lineSeries("fcHigh", [{ x: 1, y: VY[0] }, { x: 1, y: VY[1] }], "#CBCBD0", 6, "30 15")}
        {labelSegments.map(([x1, y1, x2, y2, color], i) => (
          <ReferenceLine key={i} segment={[{ x: x1, y: y1 }, { x: x2, y: y2 }]} stroke={color} strokeWidth={4} />
        ))}
        <Scatter data={volcanoLabels} shape={GeneLabel} isAnimationActive={false} />
        <ReferenceArea x1={VX[0]} x2={VX[1]} y1={VY[0]} y2={VY[1]} fill="none" stroke="#333333" strokeWidth={6} ifOverflow="visible" />
      </ScatterChart>
    </div>
  );
}

function ExosomePanel() {
  return (
    <div style={{ position: "absolute", left: 2400, top: 0 }}>
      <ScatterChart width={1000} height={1140} margin={{ top: 457, right: 105, bottom: 0, left: 0 }}>
        <XAxis type="number" dataKey="x" domain={EX} ticks={exosomeTicks} allowDataOverflow height={120} tick={tickText} tickLine={tickMark} axisLine={false} tickSize={10} tickMargin={12} tickFormatter={(v) => minus(v.toFixed(1))} interval={0} />
        <YAxis type="number" dataKey="y" domain={EY} ticks={exosomeTicks} allowDataOverflow width={300} tick={tickText} tickLine={tickMark} axisLine={false} tickSize={10} tickMargin={6} tickFormatter={(v) => minus(v.toFixed(1))} interval={0} />
        <ZAxis type="number" dataKey="z" domain={[0, 300]} range={[28, 452]} />
        <Scatter data={toPoints(ncrnaHazeB, 130)} fill="#2FA39B" fillOpacity={0.28} isAnimationActive={false} />
        <Scatter data={toPoints(ncrnaDenseB, 90)} fill="#1E9488" fillOpacity={0.72} isAnimationActive={false} />
        <Scatter data={toPoints(ncrnaFillB, 80)} fill="#2B9F8C" fillOpacity={0.65} isAnimationActive={false} />
        <Scatter data={toPoints(ncrnaSparseB, 10)} fill="#2FA39B" fillOpacity={0.7} isAnimationActive={false} />
        <Scatter data={toPoints(ncrnaSpeckB, 8)} fill="#2FA39B" fillOpacity={0.7} isAnimationActive={false} />
        <Scatter data={toPoints(ncrnaLargeB)} fill="#2FA39B" fillOpacity={0.25} stroke="#1E8F85" strokeOpacity={0.6} strokeWidth={3} isAnimationActive={false} />
        {lineSeries("vzero", [{ x: 0, y: EY[0] }, { x: 0, y: EY[1] }], "#C9C9D0", 7)}
        {lineSeries("hzero", [{ x: EX[0], y: 0 }, { x: EX[1], y: 0 }], "#C9C9D0", 7)}
        <Scatter data={toPoints(mrnaHazeB, 120)} fill="#F2DF20" fillOpacity={0.42} isAnimationActive={false} />
        <Scatter data={toPoints(mrnaFringeB, 40)} fill="#F2DF20" fillOpacity={0.62} isAnimationActive={false} />
        <Scatter data={toPoints(mrnaLargeB)} fill="#FFE060" fillOpacity={0.15} stroke="#F3E060" strokeOpacity={0.7} strokeWidth={3} isAnimationActive={false} />
        <Scatter data={toPoints(mrnaCoreB)} fill="#FFE000" fillOpacity={0.85} isAnimationActive={false} />
        {contourSeries("y1", yellowContour1, "#EBD92E", 2.5)}
        {contourSeries("y2", yellowContour2, "#E9D52A", 2.5)}
        {contourSeries("y3", yellowContour3, "#E7D840", 3)}
        {contourSeries("outer", teal2Outer, "#1F6F72", 5)}
        {contourSeries("inner", teal2Inner, "#1F6F72", 5)}
        <ReferenceArea x1={EX[0]} x2={EX[1]} y1={EY[0]} y2={EY[1]} fill="none" stroke="#333333" strokeWidth={6} ifOverflow="visible" />
      </ScatterChart>
    </div>
  );
}

function T({ x, y, w, size = 44, anchor = "start", weight = "normal", italic = false, color = "#1a1a1a", children, rotate }: any) {
  return (
    <text
      x={x}
      y={y}
      fontSize={size}
      fontFamily={FONT}
      fontWeight={weight}
      fontStyle={italic ? "italic" : "normal"}
      fill={color}
      textAnchor={anchor}
      dominantBaseline="central"
      textLength={w}
      lengthAdjust={w ? "spacingAndGlyphs" : undefined}
      transform={rotate ? `rotate(-90 ${x} ${y})` : undefined}
    >
      {children}
    </text>
  );
}

function Annotations() {
  return (
    <svg width={3684} height={1640} style={{ position: "absolute", left: 0, top: 0, pointerEvents: "none" }}>
      <defs>
        <marker id="head" viewBox="0 0 10 10" refX="9" refY="5" markerWidth="7" markerHeight="7" orient="auto">
          <path d="M0 0 L10 5 L0 10 L3 5 Z" fill="#000" />
        </marker>
      </defs>
      <T x={24} y={72} size={105} w={89} weight="bold" color="#000">A</T>
      <T x={2416} y={70} size={112} w={81} weight="bold" color="#000">B</T>

      <T x={995} y={1595} size={48} w={473} anchor="middle" color="#222">
        log<tspan fontSize={26} dy={12}>2</tspan><tspan dy={-12}>FC (24h -N / +N)</tspan>
      </T>
      <T x={166} y={805} size={46} w={663} anchor="middle" rotate color="#222">
        {"\u2212"}log<tspan fontSize={26} dy={12}>10</tspan><tspan dy={-12}>(p-value), FDR-corrected</tspan>
      </T>

      <T x={1771} y={227} size={46} w={473} weight="bold">nitrogen starvation</T>
      <T x={1771} y={283} size={46} w={233} weight="bold" italic>S. pombe</T>
      <T x={1774} y={403} size={42} w={355} weight="bold">expression level</T>
      <T x={1774} y={452} size={42} w={403}>norm. counts per kb</T>
      <T x={1774} y={501} size={42} w={177}>(24h {"\u2212"}N)</T>
      {[["> 10,000", 581, 590, 26.5], ["7,500", 635, 645, 23.5], ["5,000", 691, 701, 20], ["2,500", 747, 757, 17], ["0", 808, 811, 7.5]].map(([s, ty, cy, r]: any) => (
        <g key={s}>
          <T x={1975} y={ty} size={44} anchor="end">{s}</T>
          <circle cx={2030} cy={cy} r={r} fill="#000" />
        </g>
      ))}
      <T x={1771} y={905} size={44} w={272} weight="bold">RNA biotype</T>
      <circle cx={1803} cy={971} r={11} fill="#E4DC3C" />
      <T x={1854} y={967} size={44} w={129} color="#D8D44A">mRNA</T>
      <circle cx={1803} cy={1025} r={11} fill="#67BDB8" />
      <T x={1854} y={1023} size={44} w={140} color="#46A8A0">ncRNA</T>

      <T x={3117} y={307} size={48} w={224} anchor="middle">increased</T>
      <T x={3117} y={363} size={48} w={295} anchor="middle">by starvation</T>
      <line x1={2971} y1={416} x2={3278} y2={416} stroke="#000" strokeWidth={4} markerEnd="url(#head)" />
      <line x1={3340} y1={749} x2={3340} y2={456} stroke="#000" strokeWidth={4} markerEnd="url(#head)" />
      <T x={3380} y={582} size={48} w={224}>sensitivity</T>
      <T x={3380} y={637} size={48} w={269}>to exosome</T>
      <T x={3343} y={844} size={44} w={273} weight="bold">RNA biotype</T>
      <circle cx={3376} cy={911} r={11} fill="#F5D423" />
      <T x={3424} y={907} size={44} w={133}>mRNA</T>
      <circle cx={3376} cy={972} r={11} fill="#66BFB5" />
      <T x={3424} y={970} size={44} w={143}>ncRNA</T>
      <T x={2539} y={740} size={44} w={372} anchor="middle" rotate>
        log<tspan fontSize={24} dy={11}>2</tspan><tspan dy={-11}>FC (</tspan><tspan fontStyle="italic">rrp6Δ</tspan> / WT)
      </T>
      <T x={2994} y={1142} size={44} w={414} anchor="middle">
        log<tspan fontSize={24} dy={11}>2</tspan><tspan dy={-11}>FC (24h -N / +N)</tspan>
      </T>

      <T x={3104} y={1266} size={44} w={318} anchor="end" weight="bold">significance of</T>
      <T x={3104} y={1316} size={44} w={530} anchor="end" weight="bold">expression level change</T>
      <T x={3104} y={1364} size={40} w={236} anchor="end">24h -N / +N</T>
      <T x={3104} y={1413} size={40} w={389} anchor="end">p-value (FDR-corr.)</T>
      {[["-300", 1264, 12], ["-200", 1320, 11.5], ["-100", 1375, 10.5]].map(([s, cy, r]: any) => (
        <g key={s}>
          <circle cx={3167} cy={cy} r={r} fill="#000" />
          <T x={3211} y={cy + 2} size={44} w={45}>10</T>
          <T x={3259} y={cy - 15} size={22} w={46} color="#888">{s}</T>
        </g>
      ))}
      <circle cx={3167} cy={1430} r={5} fill="#000" />
      <T x={3234} y={1428} size={44} anchor="middle">1</T>
    </svg>
  );
}

export default function App() {
  return (
    <div style={{ position: "absolute", left: 0, top: 0, width: 3684, height: 1640, background: "#fff", overflow: "hidden" }}>
      <VolcanoPanel />
      <ExosomePanel />
      <Annotations />
    </div>
  );
}
